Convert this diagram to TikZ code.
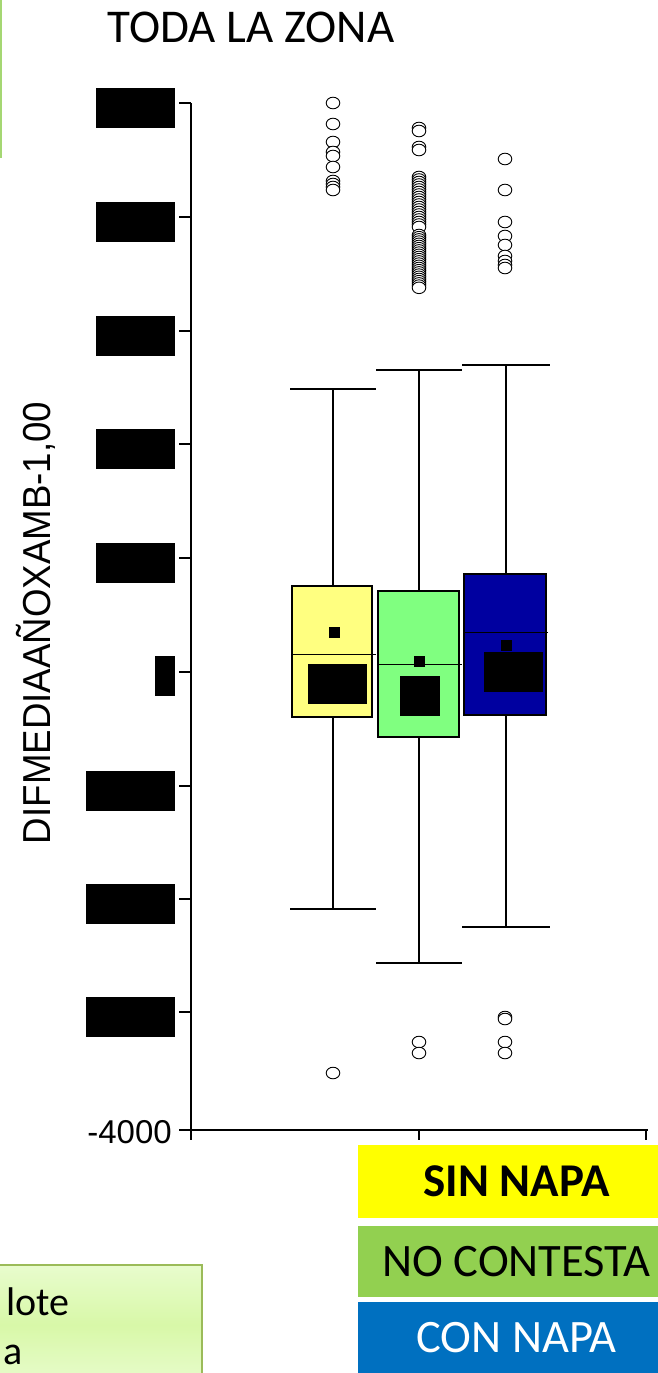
\documentclass[tikz,border=0pt]{standalone}
\usepackage{fontspec}
\usepackage{graphicx}
\newfontfamily\calibrifont{Carlito}
\newfontfamily\arialfont{Liberation Sans}
\definecolor{byellow}{RGB}{255,255,128}
\definecolor{bgreen}{RGB}{128,255,128}
\definecolor{bblue}{RGB}{0,0,160}
\definecolor{lyellow}{RGB}{255,255,0}
\definecolor{lgreen}{RGB}{146,208,80}
\definecolor{lblue}{RGB}{0,112,192}
\definecolor{noteborder}{RGB}{155,187,89}
\definecolor{notetop}{RGB}{232,252,205}
\definecolor{notemid}{RGB}{216,248,168}
\definecolor{edgegreen}{RGB}{165,215,115}
\begin{document}
\begin{tikzpicture}[x=1pt,y=-1pt]
\useasboundingbox (0,0) rectangle (657,1373);
\tikzset{
  axisline/.style={line width=1.6pt, black},
  whisk/.style={line width=1.6pt, black},
  boxp/.style={draw=black, line width=1.8pt},
  medline/.style={line width=0.9pt, black},
  outl/.style={draw=black, line width=0.9pt, fill=white},
  redact/.style={fill=black},
  meansq/.style={fill=black},
  legbox/.style={inner sep=0pt, minimum width=317pt, text=black},
}
% left edge green line (edge of a box outside the view)
\draw[edgegreen, line width=1.6pt] (0.8,0) -- (0.8,158);

% title
\node[anchor=base, inner sep=0pt, font=\calibrifont\fontsize{47}{56}\selectfont] (title) at (251,42) {TODA LA ZONA};

% y-axis label
\node[rotate=90, inner sep=0pt, font=\arialfont\fontsize{39}{40}\selectfont] (ylab) at (36,623) {\scalebox{0.94}[1]{DIFMEDIAAÑOXAMB-1,00}};

% axes
\coordinate (ytop) at (191,103);
\coordinate (origin) at (191,1130);
\coordinate (xend) at (648,1130);
\draw[axisline] (ytop) -- (191,1140);
\draw[axisline] (179,1130) -- (xend);
\foreach \t in {103,217,331,444,558,672,786,899,1012}{
  \draw[axisline] (179,\t) -- (191,\t);
}
\draw[axisline] (419,1130) -- (419,1140);
\draw[axisline] (646,1130) -- (646,1140);
\node[anchor=base east, inner sep=0pt, font=\arialfont\fontsize{33}{36}\selectfont] (ymin) at (172,1143) {-4000};

% redacted tick labels
\foreach \t in {103,217,331,444,558}{
  \fill[redact] (96,\t-15) rectangle (175,\t+25);
}
\fill[redact] (155,656) rectangle (175,696);
\foreach \t in {786,899,1012}{
  \fill[redact] (86,\t-15) rectangle (175,\t+25);
}

% whiskers
\draw[whisk] (333,389) -- (333,909);
\draw[whisk] (290,389) -- (376,389);
\draw[whisk] (290,909) -- (376,909);
\draw[whisk] (419,370) -- (419,963);
\draw[whisk] (376,370) -- (462,370);
\draw[whisk] (376,963) -- (462,963);
\draw[whisk] (506,365) -- (506,927);
\draw[whisk] (462,365) -- (550,365);
\draw[whisk] (462,927) -- (550,927);

% boxes
\filldraw[boxp, fill=byellow] (292,586) rectangle (372,717);
\filldraw[boxp, fill=bgreen] (378,591) rectangle (459,737);
\filldraw[boxp, fill=bblue] (464,574) rectangle (546,715);

% medians
\draw[medline] (292,654) -- (376,654);
\draw[medline] (378,664) -- (462,664);
\draw[medline] (464,632) -- (548,632);

% means
\fill[meansq] (328.5,626.5) rectangle (339.5,637.5);
\fill[meansq] (413.5,655.5) rectangle (424.5,666.5);
\fill[meansq] (500.5,639.5) rectangle (511.5,650.5);

% redacted inside boxes
\fill[redact] (308,664) rectangle (367,704);
\fill[redact] (400,676) rectangle (440,716);
\fill[redact] (484,652) rectangle (543,692);

% outliers
\foreach \y in {103,124,142,152,156,167,181,184,187,190}{
  \draw[outl] (333,\y) ellipse [x radius=6.8, y radius=5.8];
}
\foreach \y in {128,131,147,150}{
  \draw[outl] (419,\y) ellipse [x radius=6.8, y radius=5.8];
}
\foreach \y in {177,179.5,...,228}{
  \draw[outl] (419,\y) ellipse [x radius=6.8, y radius=5.8];
}
\foreach \y in {235,237.2,...,289}{
  \draw[outl] (419,\y) ellipse [x radius=6.8, y radius=5.8];
}
\foreach \y in {159,190,222,236,245,256,261,265,268}{
  \draw[outl] (505,\y) ellipse [x radius=6.8, y radius=5.8];
}
\draw[outl] (333,1073) ellipse [x radius=6.8, y radius=5.8];
\foreach \y in {1042,1053}{
  \draw[outl] (419,\y) ellipse [x radius=6.8, y radius=5.8];
}
\foreach \y in {1017,1019,1042,1053}{
  \draw[outl] (505,\y) ellipse [x radius=6.8, y radius=5.8];
}

% legend
\node[legbox, fill=lyellow, minimum height=73pt, font=\calibrifont\bfseries\fontsize{47}{50}\selectfont] (sin) at (516.5,1181.5) {SIN NAPA};
\node[legbox, fill=lgreen, minimum height=71pt, font=\calibrifont\fontsize{46.5}{50}\selectfont] (nocont) at (516.5,1261.5) {NO CONTESTA};
\node[legbox, fill=lblue, minimum height=71pt, text=white, font=\calibrifont\fontsize{46.5}{50}\selectfont] (con) at (516.5,1337.5) {CON NAPA};

% note box at bottom left
\draw[draw=noteborder, line width=1.8pt, top color=notetop, bottom color=notetop, middle color=notemid] (-10,1265) rectangle (202,1385);
\node[anchor=base west, inner sep=0pt, font=\calibrifont\fontsize{40}{44}\selectfont] (lote) at (6,1315) {lote};
\node[anchor=base west, inner sep=0pt, font=\calibrifont\fontsize{40}{44}\selectfont] (a) at (3,1364) {a};
\end{tikzpicture}
\end{document}
